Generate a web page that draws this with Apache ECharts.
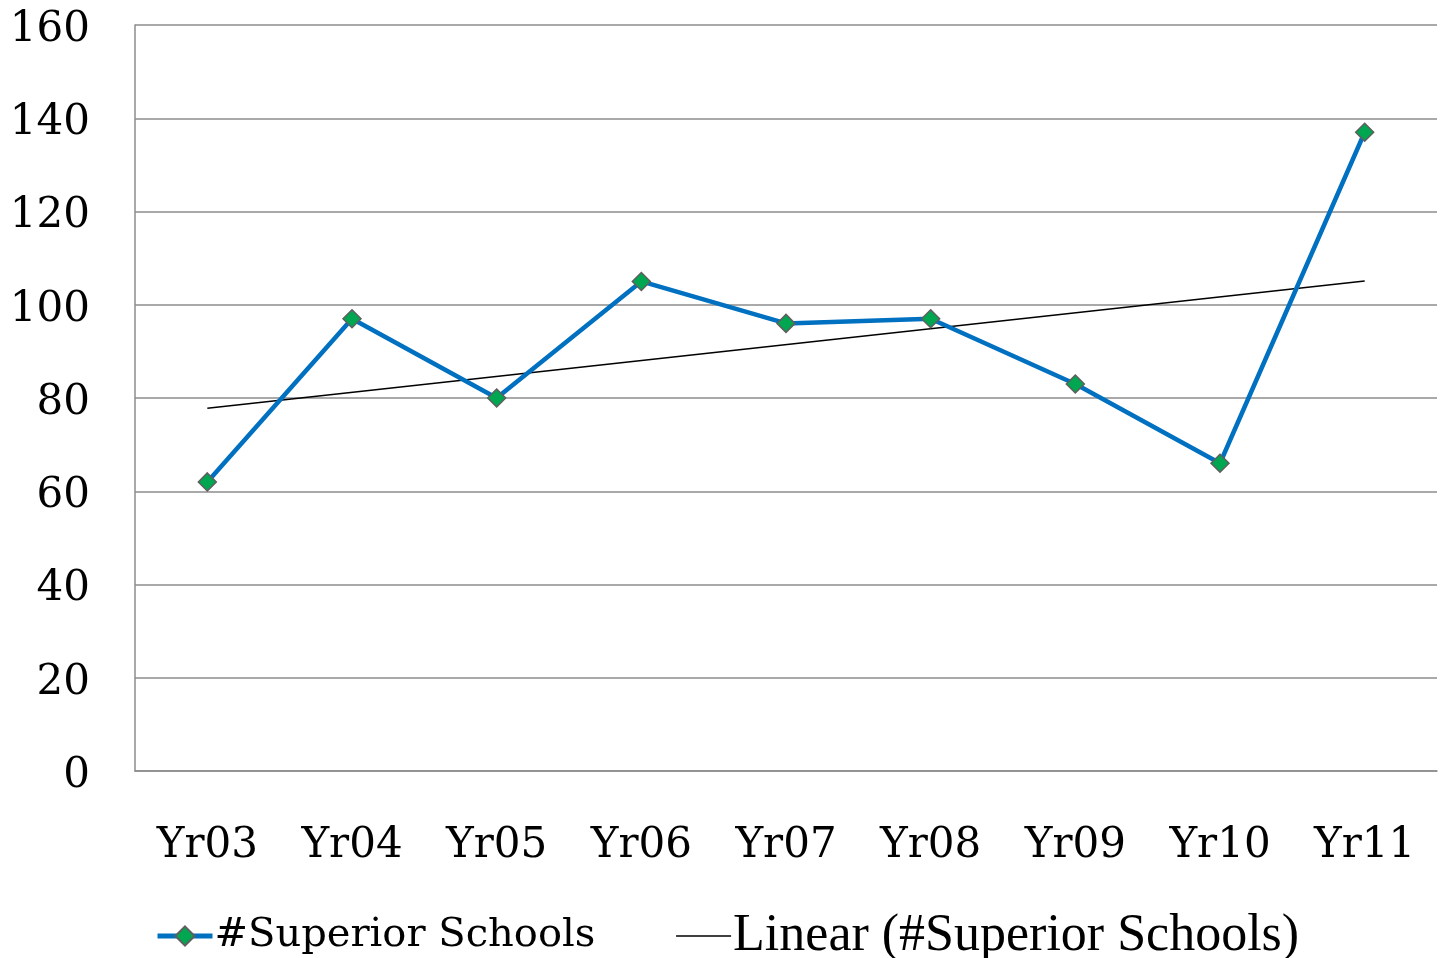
<!DOCTYPE html>
<html>
<head>
<meta charset="utf-8">
<script src="https://cdn.jsdelivr.net/npm/echarts@6/dist/echarts.min.js"></script>
<style>
html,body{margin:0;padding:0;background:#fff;}
#chart{width:1442px;height:958px;}
</style>
</head>
<body>
<div id="chart"></div>
<script>
const categories = ['Yr03','Yr04','Yr05','Yr06','Yr07','Yr08','Yr09','Yr10','Yr11'];
const superiorSchools = [62, 97, 80, 105, 96, 97, 83, 66, 137];
// trend line endpoints
const trendStart = 77.8;
const trendEnd = 105.1;
const yTicks = { min: 0, max: 160, interval: 20 };
const seriesName = '#Superior Schools';
const trendName = 'Linear (#Superior Schools)';

const serifA = '"DejaVu Serif", serif';
const serifB = '"Liberation Serif", serif';

const chart = echarts.init(document.getElementById('chart'));
chart.setOption({
  animation: false,
  backgroundColor: '#ffffff',
  grid: { left: 135, right: 5, top: 25, bottom: 187, containLabel: false },
  xAxis: {
    type: 'category',
    data: categories,
    boundaryGap: true,
    axisLine: { show: true, lineStyle: { color: '#8c8c8c', width: 1.5 } },
    axisTick: { show: false },
    axisLabel: { fontFamily: serifA, fontSize: 42, color: '#000', margin: 54 },
    splitLine: { show: false }
  },
  yAxis: {
    type: 'value',
    min: yTicks.min, max: yTicks.max, interval: yTicks.interval,
    axisLine: { show: true, lineStyle: { color: '#8c8c8c', width: 1.5 } },
    axisTick: { show: false },
    axisLabel: {
      margin: 45,
      formatter: function (v) { return '{v|' + v + '}'; },
      rich: { v: { fontFamily: serifA, fontSize: 42, color: '#000', padding: [10, 0, 0, 0] } }
    },
    splitLine: { show: true, lineStyle: { color: '#8c8c8c', width: 1.5 } }
  },
  legend: {
    left: 150,
    top: 905,
    itemWidth: 55,
    itemHeight: 24,
    itemGap: 80,
    formatter: function (name) {
      return name === trendName ? '{b|' + name + '}' : '{a|' + name + '}';
    },
    textStyle: {
      color: '#000',
      padding: [0, 0, 0, -3],
      rich: {
        a: { fontFamily: serifA, fontSize: 40, color: '#000' },
        b: { fontFamily: serifB, fontSize: 52, color: '#000' }
      }
    },
    data: [
      { name: seriesName, lineStyle: { color: '#0070C0', width: 5 } },
      { name: trendName, lineStyle: { color: '#000', width: 1.5 }, itemStyle: { opacity: 0 } }
    ]
  },
  series: [
    {
      name: seriesName,
      type: 'line',
      data: superiorSchools,
      symbol: 'diamond',
      symbolSize: 18,
      lineStyle: { color: '#0070C0', width: 4.5 },
      itemStyle: { color: '#00A650', borderColor: '#5f5f5f', borderWidth: 1.5 },
      z: 3
    },
    {
      name: trendName,
      type: 'line',
      data: [[categories[0], trendStart], [categories[categories.length - 1], trendEnd]],
      symbol: 'none',
      lineStyle: { color: '#000', width: 1.5 },
      itemStyle: { color: '#000' },
      z: 2
    }
  ]
});
</script>
</body>
</html>
